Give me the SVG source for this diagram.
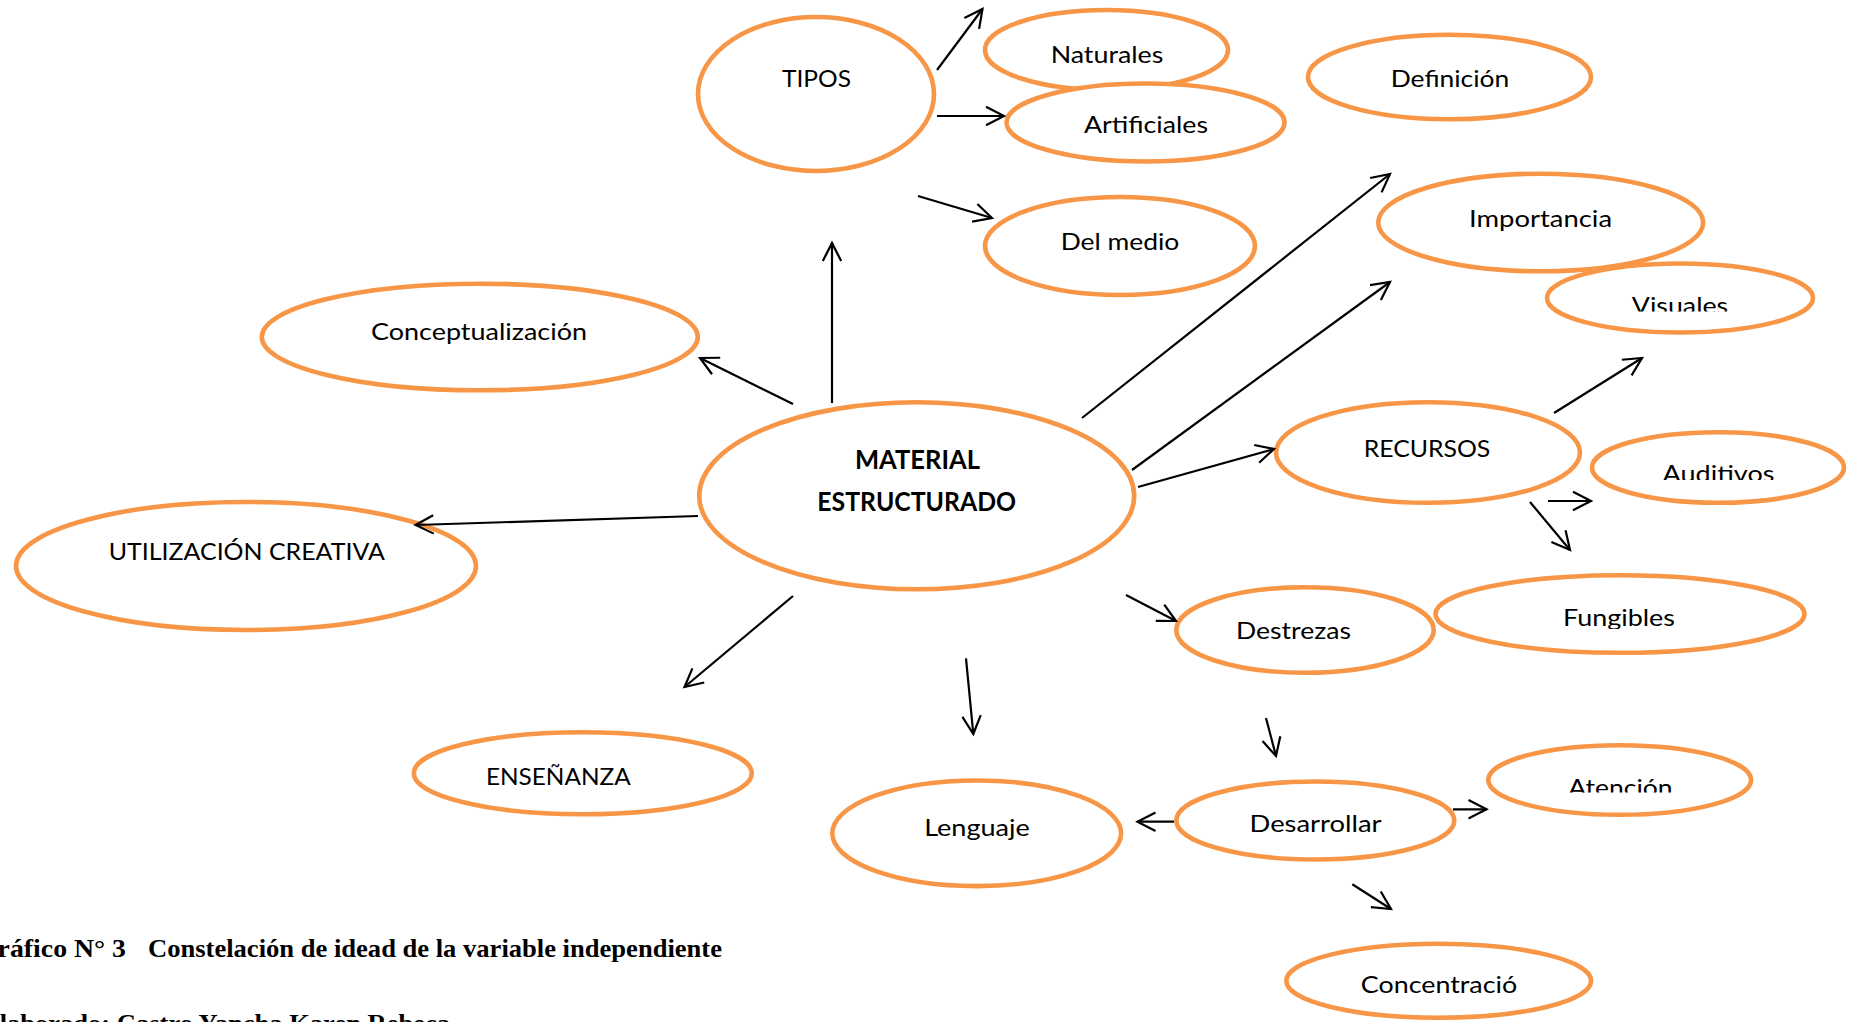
<svg xmlns="http://www.w3.org/2000/svg" width="1858" height="1022" viewBox="0 0 1858 1022">
<style>
  .node ellipse { fill: #ffffff; stroke: #F79646; stroke-width: 4.6; }
  .lbl { font-family: Lato, "Open Sans", sans-serif; font-size: 24px; fill: #000000; text-anchor: middle; }
  .bold { font-weight: bold; font-size: 26px; }
  .conn line { stroke: #000000; stroke-width: 2.2; fill: none; marker-end: url(#arr); }
  .cap { font-family: "Liberation Serif", "Times New Roman", serif; font-weight: bold; font-size: 25px; fill: #000000; }
</style>
<defs>
  <marker id="arr" markerUnits="userSpaceOnUse" viewBox="0 0 20 20" markerWidth="20" markerHeight="20" refX="19" refY="10" orient="auto" overflow="visible">
    <path d="M1,0.8 L19,10 L1,19.2" fill="none" stroke="#000000" stroke-width="2.2" stroke-linejoin="miter"/>
  </marker>
  <clipPath id="clipVis"><rect x="1550" y="250" width="270" height="61.5"/></clipPath>
  <clipPath id="clipAud"><rect x="1590" y="420" width="268" height="60"/></clipPath>
  <clipPath id="clipFun"><rect x="1440" y="570" width="370" height="59"/></clipPath>
  <clipPath id="clipAte"><rect x="1490" y="740" width="270" height="52.5"/></clipPath>
</defs>
<rect x="0" y="0" width="1858" height="1022" fill="#ffffff"/>

<g id="node-tipos" class="node">
  <ellipse cx="816" cy="94" rx="118" ry="77"/>
  <text class="lbl" x="816.5" y="87" textLength="69" lengthAdjust="spacingAndGlyphs">TIPOS</text>
</g>
<g id="node-naturales" class="node">
  <ellipse cx="1106.5" cy="50" rx="121.5" ry="40"/>
  <text class="lbl" x="1107" y="62.7" textLength="112.7" lengthAdjust="spacingAndGlyphs">Naturales</text>
</g>
<g id="node-artificiales" class="node">
  <ellipse cx="1145.5" cy="122.5" rx="139" ry="39"/>
  <text class="lbl" x="1146" y="133.3" textLength="124" lengthAdjust="spacingAndGlyphs">Artificiales</text>
</g>
<g id="node-delmedio" class="node">
  <ellipse cx="1120" cy="246" rx="135" ry="49"/>
  <text class="lbl" x="1120" y="250" textLength="118.6" lengthAdjust="spacingAndGlyphs">Del medio</text>
</g>
<g id="node-definicion" class="node">
  <ellipse cx="1449.5" cy="77" rx="141.5" ry="42.3"/>
  <text class="lbl" x="1450" y="86.7" textLength="118.6" lengthAdjust="spacingAndGlyphs">Definición</text>
</g>
<g id="node-visuales" class="node">
  <ellipse cx="1680" cy="298" rx="133" ry="34.5"/>
  <text class="lbl" x="1680" y="313.5" textLength="96.4" lengthAdjust="spacingAndGlyphs" clip-path="url(#clipVis)">Visuales</text>
</g>
<g id="node-importancia" class="node">
  <ellipse cx="1540.7" cy="222.5" rx="162.5" ry="48.8"/>
  <text class="lbl" x="1540.6" y="226.7" textLength="143" lengthAdjust="spacingAndGlyphs">Importancia</text>
</g>
<g id="node-conceptualizacion" class="node">
  <ellipse cx="479.8" cy="337" rx="218" ry="53.3"/>
  <text class="lbl" x="479" y="340" textLength="216" lengthAdjust="spacingAndGlyphs">Conceptualización</text>
</g>
<g id="node-utilizacion" class="node">
  <ellipse cx="246" cy="566" rx="230" ry="64"/>
  <text class="lbl" x="246.8" y="560" textLength="276" lengthAdjust="spacingAndGlyphs">UTILIZACIÓN CREATIVA</text>
</g>
<g id="node-material" class="node">
  <ellipse cx="916.7" cy="495.8" rx="217.5" ry="93.5"/>
  <text class="lbl bold" x="917.5" y="469.3" textLength="125" lengthAdjust="spacingAndGlyphs">MATERIAL</text>
  <text class="lbl bold" x="916.7" y="510.7" textLength="198.7" lengthAdjust="spacingAndGlyphs">ESTRUCTURADO</text>
</g>
<g id="node-recursos" class="node">
  <ellipse cx="1428" cy="452.5" rx="152" ry="50.3"/>
  <text class="lbl" x="1427" y="456.7" textLength="126.7" lengthAdjust="spacingAndGlyphs">RECURSOS</text>
</g>
<g id="node-auditivos" class="node">
  <ellipse cx="1718" cy="467.5" rx="126" ry="35.3"/>
  <text class="lbl" x="1718.5" y="482" textLength="111.8" lengthAdjust="spacingAndGlyphs" clip-path="url(#clipAud)">Auditivos</text>
</g>
<g id="node-fungibles" class="node">
  <ellipse cx="1620" cy="614" rx="184.5" ry="38.8"/>
  <text class="lbl" x="1619" y="626" textLength="112" lengthAdjust="spacingAndGlyphs" clip-path="url(#clipFun)">Fungibles</text>
</g>
<g id="node-destrezas" class="node">
  <ellipse cx="1305" cy="630" rx="128.7" ry="42.8"/>
  <text class="lbl" x="1293.5" y="639.3" textLength="115" lengthAdjust="spacingAndGlyphs">Destrezas</text>
</g>
<g id="node-lenguaje" class="node">
  <ellipse cx="976.7" cy="833.3" rx="144.4" ry="52.8"/>
  <text class="lbl" x="977" y="836" textLength="105.7" lengthAdjust="spacingAndGlyphs">Lenguaje</text>
</g>
<g id="node-desarrollar" class="node">
  <ellipse cx="1315.3" cy="820.5" rx="139" ry="39"/>
  <text class="lbl" x="1315.5" y="831.7" textLength="132" lengthAdjust="spacingAndGlyphs">Desarrollar</text>
</g>
<g id="node-atencion" class="node">
  <ellipse cx="1619.7" cy="780" rx="131.4" ry="34.8"/>
  <text class="lbl" x="1620.5" y="796" textLength="104.3" lengthAdjust="spacingAndGlyphs" clip-path="url(#clipAte)">Atención</text>
</g>
<g id="node-concentracion" class="node">
  <ellipse cx="1438.7" cy="980.8" rx="152.4" ry="37"/>
  <text class="lbl" x="1439" y="993.3" textLength="156.3" lengthAdjust="spacingAndGlyphs">Concentració</text>
</g>
<g id="node-ensenanza" class="node">
  <ellipse cx="582.8" cy="773.3" rx="169" ry="41"/>
  <text class="lbl" x="558.3" y="785" textLength="144.7" lengthAdjust="spacingAndGlyphs">ENSEÑANZA</text>
</g>

<g id="connectors" class="conn">
  <line x1="832" y1="403" x2="832" y2="243"/>
  <line x1="937" y1="70" x2="982.5" y2="9"/>
  <line x1="937" y1="116" x2="1004" y2="116"/>
  <line x1="918" y1="196" x2="992" y2="218"/>
  <line x1="1082" y1="418" x2="1390" y2="174"/>
  <line x1="1132" y1="470" x2="1390" y2="282"/>
  <line x1="1138" y1="487" x2="1274" y2="449"/>
  <line x1="1554" y1="413" x2="1642" y2="358"/>
  <line x1="1548" y1="501" x2="1591" y2="501"/>
  <line x1="1530" y1="502" x2="1570" y2="550"/>
  <line x1="1126" y1="595" x2="1176" y2="621"/>
  <line x1="1266" y1="718" x2="1276" y2="756"/>
  <line x1="1174" y1="821.7" x2="1137.5" y2="821.7"/>
  <line x1="1453" y1="809.3" x2="1486.5" y2="809.3"/>
  <line x1="1352.3" y1="884.3" x2="1391" y2="909"/>
  <line x1="966" y1="658.3" x2="973.3" y2="734"/>
  <line x1="793" y1="596" x2="684.5" y2="687"/>
  <line x1="698" y1="516" x2="415.5" y2="525"/>
  <line x1="793" y1="404" x2="700" y2="358"/>
</g>

<g id="caption">
  <text class="cap" y="957.3"><tspan x="-24" textLength="150" lengthAdjust="spacingAndGlyphs">Gráfico N° 3</tspan><tspan x="148" textLength="574" lengthAdjust="spacingAndGlyphs">Constelación de idead de la variable independiente</tspan></text>
  <text class="cap" x="-18" y="1032" textLength="468" lengthAdjust="spacingAndGlyphs">Elaborado: Castro Yancha Karen Rebeca</text>
</g>
</svg>
